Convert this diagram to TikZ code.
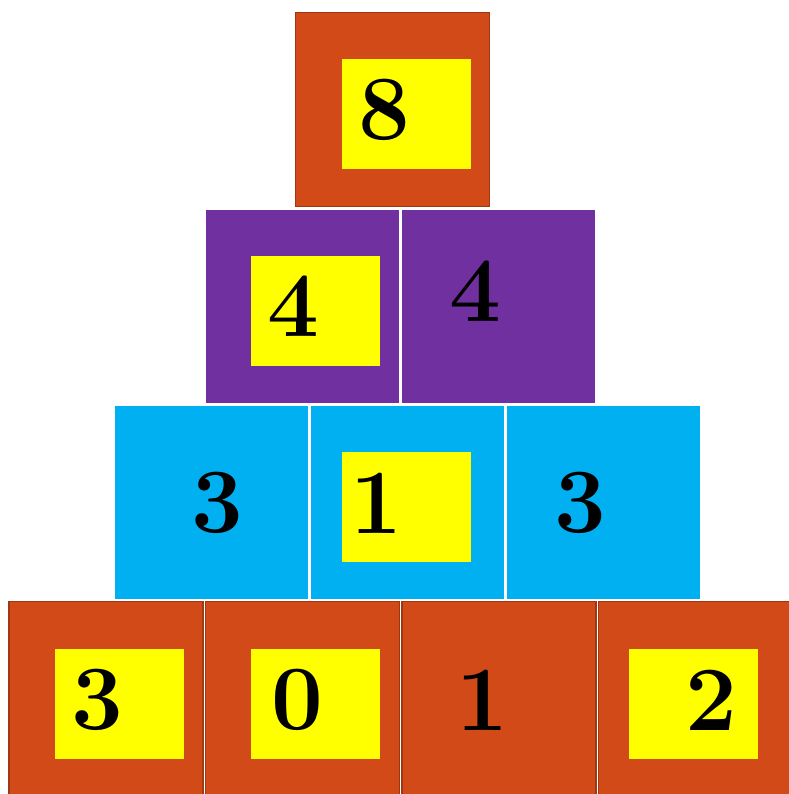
\documentclass[tikz,border=0pt]{standalone}
\usetikzlibrary{positioning}
\definecolor{brickfill}{RGB}{210,74,23}
\definecolor{brickline}{RGB}{158,56,20}
\definecolor{plumfill}{RGB}{112,48,160}
\definecolor{skyfill}{RGB}{0,176,240}
\definecolor{spotfill}{RGB}{255,255,0}
\begin{document}
\begin{tikzpicture}[
  x=1pt, y=-1pt, node distance=1pt and 1pt,
  blk/.style={draw=white, line width=1pt, minimum width=194pt, minimum height=194pt, inner sep=0pt},
  blkb/.style={blk, fill=brickfill, draw=brickline, line width=1.4pt},
  blkp/.style={blk, fill=plumfill},
  blks/.style={blk, fill=skyfill},
  spot/.style={fill=spotfill, minimum width=129pt, minimum height=110pt, inner sep=0pt},
  num/.style={font=\fontsize{92}{100}\selectfont\bfseries, inner sep=0pt}]
\useasboundingbox (0,0) rectangle (788,794);

% ---- row 1: top ----
\node[blkb] (top) at (392.5,109.5) {};

% ---- row 2: purple ----
\node[blkp] (p1) at (302.5,306.5) {};
\node[blkp, right=of p1] (p2) {};

% ---- row 3: blue ----
\node[blks] (s1) at (211.5,502.5) {};
\node[blks, right=of s1] (s2) {};
\node[blks, right=of s2] (s3) {};

% ---- row 4: base ----
\node[blkb] (b1) at (106,698.5) {};
\node[blkb, right=of b1] (b2) {};
\node[blkb, right=of b2] (b3) {};
\node[blkb, right=of b3] (b4) {};

% ---- yellow spots ----
\node[spot] (stop) at (406.5,114) {};
\node[spot] (sp1) at (315.5,311) {};
\node[spot] (ss2) at (406.5,507) {};
\node[spot] (sb1) at (119.5,704) {};
\node[spot] (sb2) at (315.5,704) {};
\node[spot] (sb4) at (693.5,704) {};

% ---- numbers ----
\node[num] (ntop) at (384,110) {8};
\node[num] (np1) at (293,306) {4};
\node[num] (np2) at (475,291) {4};
\node[num] (ns1) at (217,503) {3};
\node[num] (ns2) at (376,503) {1};
\node[num] (ns3) at (580,503) {3};
\node[num] (nb1) at (97,700) {3};
\node[num] (nb2) at (297,700) {0};
\node[num] (nb3) at (482,700) {1};
\node[num] (nb4) at (711,700) {2};
\end{tikzpicture}
\end{document}
